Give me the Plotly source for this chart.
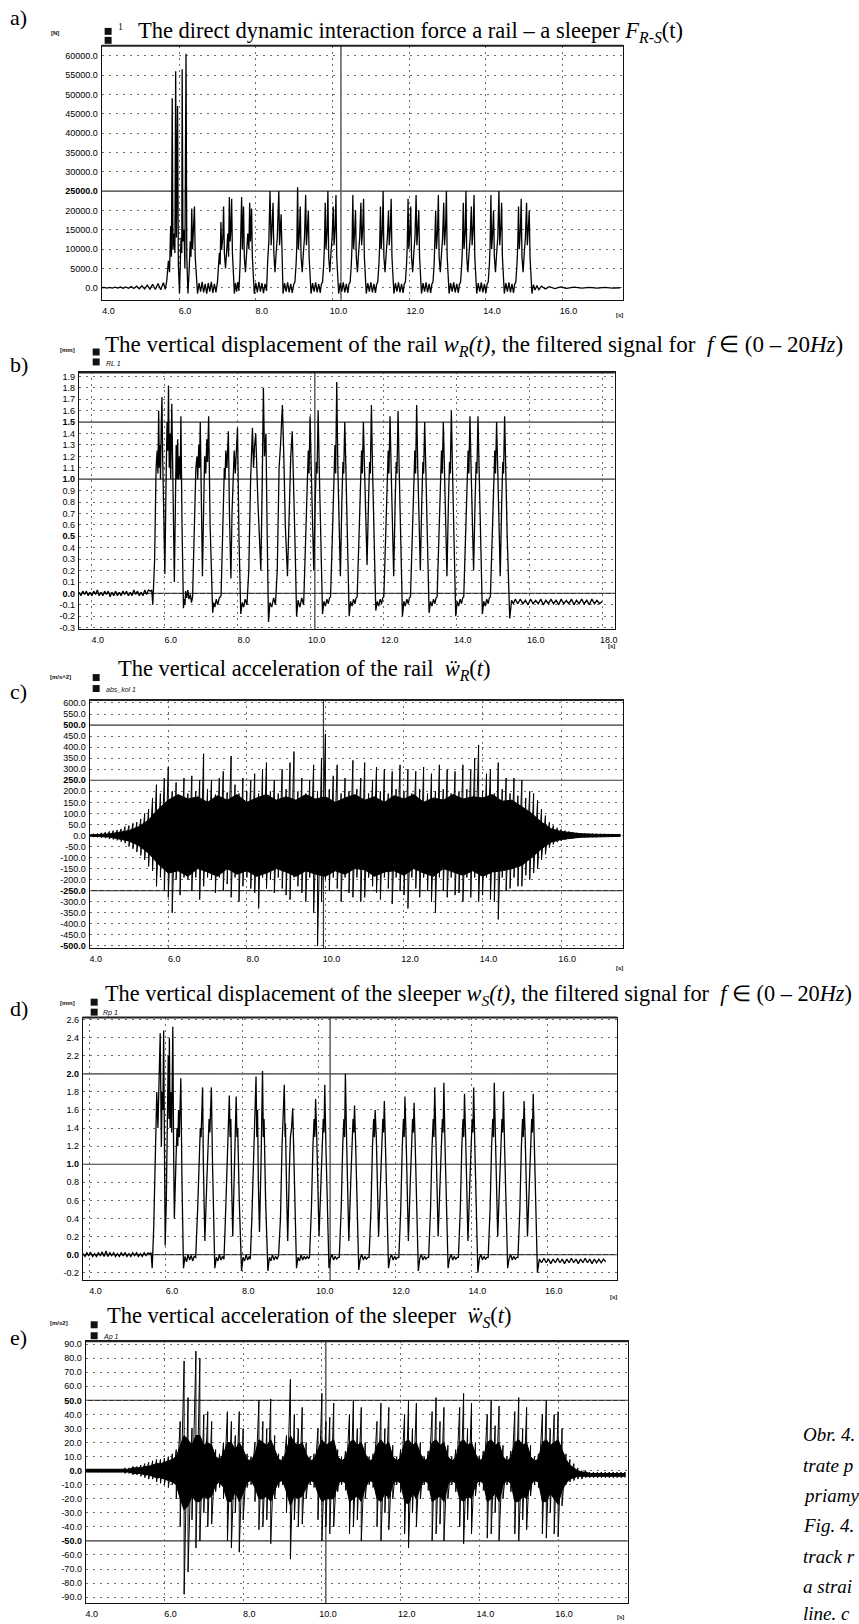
import plotly.graph_objects as go

W, H = 859, 1624

# ---------------- data ----------------
# a) direct dynamic interaction force rail - sleeper  (t [s], F [N])
force_pts = [
(3.98,0),(4.05,100),(4.12,-80),(4.19,120),(4.26,-100),(4.33,150),(4.40,-100),(4.47,180),(4.54,-120),(4.61,220),(4.68,-150),(4.75,300),(4.82,-200),(4.89,400),(4.96,-250),(5.03,500),(5.10,-300),(5.17,700),(5.24,-350),(5.31,900),(5.38,-450),(5.45,1100),(5.52,-500),(5.59,1300),(5.64,-400),(5.68,2000),
(5.72,7000),(5.75,4000),(5.78,16000),(5.80,8000),(5.82,49000),(5.84,10000),(5.87,14000),(5.89,9000),(5.91,56000),(5.93,13000),(5.96,47000),(5.98,6000),(6.01,-1500),(6.03,5000),(6.05,13000),(6.07,9000),(6.08,56500),(6.10,12000),(6.13,15000),(6.15,5000),(6.18,60500),(6.20,8000),(6.23,-1500),(6.26,4000),(6.29,12000),(6.31,8000),(6.33,20500),(6.35,10000),(6.37,14000),(6.40,21000),(6.42,8000),(6.45,1000),(6.48,-1500),
(6.52,1200),(6.56,-1000),(6.60,1500),(6.64,-1200),(6.68,1000),(6.72,-1500),(6.76,1200),(6.80,-1000),(6.84,1500),(6.88,-1300),(6.92,1000),(6.96,-1200),(7.00,1500),
(7.03,5000),(7.05,9000),(7.07,6000),(7.09,17000),(7.11,10000),(7.14,13000),(7.16,21000),(7.18,9000),(7.21,5000),(7.24,10000),(7.27,14000),(7.29,8000),(7.31,23500),(7.33,12000),(7.35,15000),(7.37,23000),(7.39,9000),(7.42,3000),(7.44,-1500),
(7.47,1200),(7.50,-1000),(7.53,1500),(7.56,-800),
(7.59,6000),(7.61,12000),(7.63,23500),(7.65,10000),(7.68,21000),(7.70,8000),(7.73,4000),(7.76,9000),(7.79,14000),(7.82,10000),(7.84,22000),(7.86,12000),(7.89,20500),(7.91,8000),(7.94,2000),(7.96,-1500),
(8.00,1300),(8.04,-1200),(8.08,1500),(8.12,-1000),(8.16,1200),(8.20,-1400),(8.24,1000),(8.28,-800),
(8.31,7000),(8.34,12000),(8.37,25000),(8.40,11000),(8.42,15000),(8.45,22000),(8.47,9000),(8.50,4000),(8.53,9000),(8.56,13000),(8.60,25000),(8.62,11000),(8.66,19000),(8.68,8000),(8.71,-1500),
(8.75,1200),(8.79,-1000),(8.83,1400),(8.87,-1200),(8.91,1000),(8.95,-1300),(8.99,900),
(9.02,1500),(9.05,6000),(9.07,11000),(9.09,26000),(9.11,10000),(9.14,15000),(9.16,21000),(9.18,8000),(9.21,4000),(9.24,9000),(9.27,13000),(9.30,24000),(9.32,11000),(9.35,16000),(9.37,20000),(9.39,8000),(9.42,2000),(9.44,-1500),(9.48,1200),(9.52,-1000),(9.56,1400),(9.60,-1200),(9.64,1000),(9.68,-1300),(9.71,900),
(9.74,1500),(9.77,6000),(9.79,11000),(9.81,22000),(9.83,10000),(9.86,15000),(9.88,25000),(9.90,8000),(9.93,4000),(9.96,9000),(9.99,13000),(10.02,21000),(10.04,11000),(10.07,16000),(10.09,24000),(10.11,8000),(10.14,2000),(10.16,-1500),(10.20,1200),(10.24,-1000),(10.28,1400),(10.32,-1200),(10.36,1000),(10.40,-1300),(10.43,900),
(10.46,1500),(10.49,6000),(10.51,11000),(10.53,24000),(10.55,10000),(10.58,15000),(10.60,20000),(10.62,8000),(10.65,4000),(10.68,9000),(10.71,13000),(10.74,22000),(10.76,11000),(10.79,16000),(10.81,23000),(10.83,8000),(10.86,2000),(10.88,-1500),(10.92,1200),(10.96,-1000),(11.00,1400),(11.04,-1200),(11.08,1000),(11.12,-1300),(11.15,900),
(11.18,1500),(11.21,6000),(11.23,11000),(11.25,21000),(11.27,10000),(11.30,15000),(11.32,25000),(11.34,8000),(11.37,4000),(11.40,9000),(11.43,13000),(11.46,20000),(11.48,11000),(11.51,16000),(11.53,23000),(11.55,8000),(11.58,2000),(11.60,-1500),(11.64,1200),(11.68,-1000),(11.72,1400),(11.76,-1200),(11.80,1000),(11.84,-1300),(11.87,900),
(11.90,1500),(11.93,6000),(11.95,11000),(11.97,23000),(11.99,10000),(12.02,15000),(12.04,21000),(12.06,8000),(12.09,4000),(12.12,9000),(12.15,13000),(12.18,24000),(12.20,11000),(12.23,16000),(12.25,20000),(12.27,8000),(12.30,2000),(12.32,-1500),(12.36,1200),(12.40,-1000),(12.44,1400),(12.48,-1200),(12.52,1000),(12.56,-1300),(12.59,900),
(12.62,1500),(12.65,6000),(12.67,11000),(12.69,20000),(12.71,10000),(12.74,15000),(12.76,24000),(12.78,8000),(12.81,4000),(12.84,9000),(12.87,13000),(12.90,22000),(12.92,11000),(12.95,16000),(12.97,25000),(12.99,8000),(13.02,2000),(13.04,-1500),(13.08,1200),(13.12,-1000),(13.16,1400),(13.20,-1200),(13.24,1000),(13.28,-1300),(13.31,900),
(13.34,1500),(13.37,6000),(13.39,11000),(13.41,22000),(13.43,10000),(13.46,15000),(13.48,25000),(13.50,8000),(13.53,4000),(13.56,9000),(13.59,13000),(13.62,21000),(13.64,11000),(13.67,16000),(13.69,24000),(13.71,8000),(13.74,2000),(13.76,-1500),(13.80,1200),(13.84,-1000),(13.88,1400),(13.92,-1200),(13.96,1000),(14.00,-1300),(14.03,900),
(14.06,1500),(14.09,6000),(14.11,11000),(14.13,24000),(14.15,10000),(14.18,15000),(14.20,20000),(14.22,8000),(14.25,4000),(14.28,9000),(14.31,13000),(14.34,25000),(14.36,11000),(14.39,16000),(14.41,22000),(14.43,8000),(14.46,2000),(14.48,-1500),(14.52,1200),(14.56,-1000),(14.60,1400),(14.64,-1200),(14.68,1000),(14.72,-1300),(14.75,900),
(14.78,1500),(14.81,6000),(14.83,11000),(14.85,21000),(14.87,10000),(14.90,15000),(14.92,23000),(14.94,8000),(14.97,4000),(15.00,9000),(15.03,13000),(15.06,22000),(15.08,11000),(15.11,16000),(15.13,20000),(15.15,8000),(15.18,2000),(15.20,-1500),
(15.24,800),(15.28,-600),(15.33,600),(15.38,-500),(15.45,400),(15.55,-300),(15.65,300),(15.80,-200),(15.95,200),(16.10,-150),(16.30,150),(16.50,-100),(16.70,100),(16.90,-100),(17.10,80),(17.30,-80),(17.50,0),
]

# b) vertical displacement of the rail  (t [s], w [mm])
rail_disp_pts = [
(3.65,0.01),(3.70,-0.02),(3.75,0.02),(3.80,-0.01),(3.85,0.02),(3.90,-0.02),(3.95,0.01),(4.00,-0.02),(4.05,0.02),(4.10,-0.01),(4.15,0.03),(4.20,-0.02),(4.25,0.01),(4.30,-0.02),(4.35,0.02),(4.40,-0.01),(4.45,0.02),(4.50,-0.03),(4.55,0.01),(4.60,-0.02),(4.65,0.02),(4.70,-0.02),(4.75,0.01),(4.80,-0.02),(4.85,0.02),(4.90,-0.01),(4.95,0.02),(5.00,-0.02),(5.05,0.01),(5.10,-0.02),(5.15,0.03),(5.20,-0.01),(5.25,0.02),(5.30,-0.02),(5.35,0.01),(5.40,-0.02),(5.45,0.03),(5.50,-0.01),(5.55,0.03),(5.60,0.02),
(5.64,0.03),(5.67,-0.10),(5.72,0.3),(5.76,1.1),(5.79,1.25),(5.81,1.05),(5.83,1.60),(5.85,1.1),(5.87,1.3),(5.88,1.0),(5.90,1.45),(5.92,1.72),(5.94,1.2),(5.97,0.6),(6.00,0.17),(6.03,0.9),(6.06,1.5),(6.08,1.25),(6.10,1.82),(6.12,1.1),(6.14,1.4),(6.16,1.0),(6.19,1.66),(6.22,1.0),(6.24,0.4),(6.26,0.10),(6.29,0.8),(6.31,1.3),(6.33,1.0),(6.35,1.35),(6.37,1.0),(6.40,1.2),(6.42,1.0),(6.44,1.55),(6.47,0.6),(6.51,-0.13),(6.53,-0.05),(6.55,-0.10),(6.57,0.02),(6.60,-0.04),(6.63,0.03),(6.66,-0.05),(6.70,-0.01),(6.73,-0.08),(6.76,-0.03),
(6.80,0.4),(6.85,1.1),(6.88,1.2),(6.90,1.0),(6.93,1.3),(6.95,1.1),(6.97,1.5),(7.00,0.6),(7.03,0.15),(7.06,0.7),(7.09,1.2),(7.12,1.05),(7.15,1.35),(7.17,1.15),(7.20,1.55),(7.24,0.6),(7.28,0.0),(7.31,-0.17),(7.34,-0.08),(7.37,-0.12),(7.41,-0.05),(7.45,-0.10),(7.49,-0.04),(7.54,-0.02),
(7.59,0.6),(7.63,1.1),(7.65,1.0),(7.67,1.25),(7.70,1.1),(7.74,1.42),(7.77,0.7),(7.81,0.13),(7.84,0.7),(7.87,1.1),(7.90,1.25),(7.93,1.05),(7.96,1.3),(7.99,1.45),(8.03,0.5),(8.08,-0.18),
(8.12,-0.08),(8.16,-0.12),(8.20,-0.05),(8.25,-0.10),(8.30,0.2),(8.35,1.0),(8.40,1.45),(8.43,1.1),(8.46,1.3),(8.49,1.4),(8.55,0.8),(8.63,0.2),(8.67,1.0),(8.70,1.8),(8.73,1.2),(8.77,1.4),(8.80,0.6),(8.84,-0.25),(8.88,-0.08),(8.93,-0.12),(8.98,-0.04),(9.03,-0.10),
(9.08,0.2),(9.13,1.1),(9.17,1.3),(9.22,1.65),(9.26,1.2),(9.30,0.6),(9.36,0.15),(9.41,0.9),(9.45,1.2),(9.49,1.42),(9.53,1.0),(9.57,0.4),(9.61,-0.2),(9.65,-0.06),(9.70,-0.12),(9.75,-0.04),(9.80,-0.10),
(9.81,-0.03),(9.86,0.5),(9.90,1.1),(9.93,1.25),(9.95,1.05),(9.98,1.55),(10.01,1.1),(10.04,0.6),(10.08,0.2),(10.12,0.8),(10.15,1.15),(10.17,1.05),(10.20,1.6),(10.23,1.1),(10.27,0.5),(10.32,-0.18),(10.36,-0.07),(10.40,-0.11),(10.44,-0.05),(10.48,-0.09),(10.51,-0.04),
(10.54,-0.03),(10.59,0.5),(10.63,1.1),(10.66,1.3),(10.68,1.05),(10.71,1.85),(10.74,1.1),(10.77,0.6),(10.81,0.15),(10.85,0.8),(10.88,1.15),(10.90,1.05),(10.93,1.5),(10.96,1.1),(11.00,0.5),(11.05,-0.2),(11.09,-0.07),(11.13,-0.11),(11.17,-0.05),(11.21,-0.09),(11.24,-0.04),
(11.27,-0.03),(11.32,0.5),(11.36,1.1),(11.39,1.25),(11.41,1.05),(11.44,1.5),(11.47,1.1),(11.50,0.6),(11.54,0.25),(11.58,0.8),(11.61,1.15),(11.63,1.05),(11.66,1.65),(11.69,1.1),(11.73,0.5),(11.78,-0.15),(11.82,-0.07),(11.86,-0.11),(11.90,-0.05),(11.94,-0.09),(11.97,-0.04),
(12.00,-0.03),(12.05,0.5),(12.09,1.1),(12.12,1.25),(12.14,1.05),(12.17,1.55),(12.20,1.1),(12.23,0.6),(12.27,0.15),(12.31,0.8),(12.34,1.15),(12.36,1.05),(12.39,1.6),(12.42,1.1),(12.46,0.5),(12.51,-0.2),(12.55,-0.07),(12.59,-0.11),(12.63,-0.05),(12.67,-0.09),(12.70,-0.04),
(12.73,-0.03),(12.78,0.5),(12.82,1.1),(12.85,1.25),(12.87,1.05),(12.90,1.65),(12.93,1.1),(12.96,0.6),(13.00,0.2),(13.04,0.8),(13.07,1.15),(13.09,1.05),(13.12,1.5),(13.15,1.1),(13.19,0.5),(13.24,-0.17),(13.28,-0.07),(13.32,-0.11),(13.36,-0.05),(13.40,-0.09),(13.43,-0.04),
(13.46,-0.03),(13.51,0.5),(13.55,1.1),(13.58,1.25),(13.60,1.05),(13.63,1.5),(13.66,1.1),(13.69,0.6),(13.73,0.15),(13.77,0.8),(13.80,1.15),(13.82,1.05),(13.85,1.6),(13.88,1.1),(13.92,0.5),(13.97,-0.2),(14.01,-0.07),(14.05,-0.11),(14.09,-0.05),(14.13,-0.09),(14.16,-0.04),
(14.19,-0.03),(14.24,0.5),(14.28,1.1),(14.31,1.25),(14.33,1.05),(14.36,1.55),(14.39,1.1),(14.42,0.6),(14.46,0.2),(14.50,0.8),(14.53,1.15),(14.55,1.05),(14.58,1.55),(14.61,1.1),(14.65,0.5),(14.70,-0.18),(14.74,-0.07),(14.78,-0.11),(14.82,-0.05),(14.86,-0.09),(14.89,-0.04),
(14.92,-0.03),(14.97,0.5),(15.01,1.1),(15.04,1.25),(15.06,1.05),(15.09,1.5),(15.12,1.1),(15.15,0.6),(15.19,0.15),(15.23,0.8),(15.26,1.15),(15.28,1.05),(15.31,1.55),(15.34,1.1),(15.38,0.5),(15.45,-0.22),
(15.50,-0.06),(15.55,-0.09),(15.60,-0.05),(15.67,-0.09),(15.74,-0.05),(15.81,-0.09),(15.88,-0.06),(15.95,-0.10),(16.02,-0.05),(16.09,-0.09),(16.16,-0.06),(16.23,-0.09),(16.30,-0.05),(16.37,-0.10),(16.44,-0.06),(16.51,-0.09),(16.58,-0.05),(16.65,-0.09),(16.72,-0.06),(16.79,-0.10),(16.86,-0.05),(16.93,-0.09),(17.00,-0.06),(17.07,-0.09),(17.14,-0.05),(17.21,-0.10),(17.28,-0.06),(17.35,-0.09),(17.42,-0.05),(17.49,-0.09),(17.56,-0.06),(17.63,-0.10),(17.70,-0.05),(17.77,-0.09),(17.84,-0.06),(17.91,-0.09),(17.98,-0.07),
]

# c) vertical acceleration of the rail [m/s^2]: spike max / min every 0.1 s
rail_acc_t = [4.0,4.1,4.2,4.3,4.4,4.5,4.6,4.7,4.8,4.9,5.0,5.1,5.2,5.3,5.4,5.5,5.6,5.7,5.8,5.9,6.0,6.1,6.2,6.3,6.4,6.5,6.6,6.7,6.8,6.9,7.0,7.1,7.2,7.3,7.4,7.5,7.6,7.7,7.8,7.9,8.0,8.1,8.2,8.3,8.4,8.5,8.6,8.7,8.8,8.9,9.0,9.1,9.2,9.3,9.4,9.5,9.6,9.7,9.8,9.9,10.0,10.1,10.2,10.3,10.4,10.5,10.6,10.7,10.8,10.9,11.0,11.1,11.2,11.3,11.4,11.5,11.6,11.7,11.8,11.9,12.0,12.1,12.2,12.3,12.4,12.5,12.6,12.7,12.8,12.9,13.0,13.1,13.2,13.3,13.4,13.5,13.6,13.7,13.8,13.9,14.0,14.1,14.2,14.3,14.4,14.5,14.6,14.7,14.8,14.9,15.0,15.1,15.2,15.3,15.4,15.5,15.6,15.7,15.8,15.9,16.0,16.1,16.2,16.3,16.4,16.5,16.6,16.7,16.8,16.9,17.0,17.1,17.2,17.3,17.4,17.5]
rail_acc_hi = [6,8,9,12,15,18,22,25,30,40,45,55,60,75,100,120,170,
230,190,260,310,200,240,180,260,190,270,200,250,370,210,250,185,260,290,195,360,230,190,260,
200,250,280,190,300,330,200,250,190,300,210,330,380,200,260,190,250,320,200,350,
460,210,270,320,190,260,200,340,210,260,330,190,250,310,200,300,190,290,210,320,
200,300,190,290,210,310,190,280,200,320,210,300,190,290,200,320,210,300,350,410,
200,280,300,190,330,210,260,190,260,180,250,170,200,
190,160,120,90,60,45,35,28,22,18,15,12,10,9,8,8,7,7,7,6,6,6,6]
rail_acc_lo = [-5,-7,-8,-10,-12,-16,-18,-22,-28,-35,-50,-60,-75,-90,-110,-140,-160,
-230,-190,-250,-280,-350,-200,-270,-190,-200,-250,-190,-290,-230,-190,-200,-260,-190,-250,-220,-280,-190,-300,-230,
-190,-240,-260,-330,-190,-240,-200,-260,-190,-240,-270,-290,-190,-230,-260,-300,-190,-350,-500,-300,
-200,-250,-190,-240,-300,-190,-260,-280,-190,-300,-280,-190,-230,-260,-290,-190,-240,-310,-190,-250,
-270,-330,-190,-240,-280,-190,-250,-300,-350,-190,-250,-280,-190,-270,-260,-300,-190,-280,-190,-300,
-270,-190,-290,-300,-380,-190,-250,-240,-190,-230,-230,-180,-200,
-170,-150,-110,-85,-55,-40,-30,-25,-20,-16,-13,-10,-9,-8,-7,-7,-7,-6,-6,-6,-6,-5,-5]
# c) dense black core of the record (upper / lower edge)
rail_core_t = [4.0,4.5,5.0,5.25,5.5,5.75,6.0,6.25,6.5,6.75,7.0,7.25,7.5,7.75,8.0,8.25,8.5,8.75,9.0,9.25,9.5,9.75,10.0,10.25,10.5,10.75,11.0,11.25,11.5,11.75,12.0,12.25,12.5,12.75,13.0,13.25,13.5,13.75,14.0,14.25,14.5,14.75,15.0,15.25,15.5,15.75,16.0,16.5,17.0,17.5]
rail_core_hi = [3,7,22,40,70,120,160,185,165,175,150,180,160,185,150,170,185,160,175,160,185,165,175,150,170,185,160,175,150,180,165,185,150,170,160,185,165,175,170,185,155,160,130,100,60,30,18,8,5,4]
rail_core_lo = [-3,-7,-25,-45,-80,-130,-170,-160,-185,-150,-165,-185,-150,-175,-160,-185,-170,-150,-165,-185,-160,-175,-185,-160,-175,-150,-155,-185,-165,-160,-180,-150,-170,-185,-150,-165,-180,-160,-185,-165,-160,-150,-135,-100,-60,-30,-18,-8,-5,-4]

# d) vertical displacement of the sleeper  (t [s], w [mm])
sleeper_disp_pts = [
(3.83,0.01),(3.88,-0.02),(3.93,0.02),(3.98,-0.01),(4.03,0.02),(4.08,-0.02),(4.13,0.01),(4.18,-0.02),(4.23,0.02),(4.28,-0.01),(4.33,0.03),(4.38,-0.02),(4.43,0.04),(4.48,-0.02),(4.53,0.02),(4.58,-0.01),(4.63,0.02),(4.68,-0.02),(4.73,0.01),(4.78,-0.02),(4.83,0.02),(4.88,-0.01),(4.93,0.02),(4.98,-0.02),(5.03,0.01),(5.08,-0.02),(5.13,0.02),(5.18,-0.01),(5.23,0.02),(5.28,-0.02),(5.33,0.01),(5.38,-0.02),(5.43,0.02),(5.48,-0.01),(5.53,0.02),(5.58,0.01),
(5.61,0.02),(5.64,-0.15),(5.68,0.3),(5.72,1.2),(5.76,1.8),(5.79,1.4),(5.82,2.0),(5.85,2.45),(5.87,1.6),(5.88,1.2),(5.90,1.8),(5.92,1.6),(5.94,2.48),(5.96,1.0),(5.98,0.1),(6.01,0.6),(6.04,1.7),(6.06,2.2),(6.08,1.5),(6.09,2.4),(6.11,1.4),(6.13,1.8),(6.15,1.35),(6.18,2.52),(6.20,1.2),(6.22,0.4),(6.26,1.0),(6.29,1.4),(6.31,1.2),(6.33,1.6),(6.35,1.3),(6.37,1.65),(6.39,1.95),(6.42,0.8),(6.46,-0.15),(6.50,-0.02),(6.54,-0.08),(6.58,0.0),(6.62,-0.06),(6.66,-0.01),(6.70,-0.07),(6.74,-0.02),
(6.78,-0.03),(6.83,0.5),(6.87,1.1),(6.90,1.4),(6.92,1.3),(6.94,1.6),(6.96,1.85),(6.98,1.0),(7.02,0.15),(7.07,0.8),(7.11,1.3),(7.13,1.5),(7.15,1.35),(7.17,1.6),(7.19,1.85),(7.22,1.0),(7.28,-0.15),(7.32,-0.03),(7.36,-0.07),(7.40,0.0),(7.44,-0.06),(7.48,-0.02),(7.52,-0.05),
(7.55,0.3),(7.60,1.1),(7.63,1.4),(7.66,1.76),(7.68,1.3),(7.70,1.5),(7.72,0.8),(7.75,0.2),(7.79,0.9),(7.82,1.4),(7.84,1.75),(7.86,1.3),(7.88,1.4),(7.92,0.6),(7.98,-0.18),(8.02,-0.03),(8.06,-0.07),(8.10,0.0),(8.14,-0.06),(8.18,-0.02),(8.21,-0.05),
(8.25,0.4),(8.30,1.2),(8.33,1.5),(8.36,1.97),(8.38,1.3),(8.40,1.6),(8.42,0.8),(8.45,0.25),(8.49,1.0),(8.51,1.4),(8.53,2.03),(8.55,1.3),(8.57,1.5),(8.61,0.6),(8.67,-0.18),(8.71,-0.03),(8.75,-0.07),(8.79,0.0),(8.83,-0.06),(8.87,-0.02),(8.91,-0.05),(8.95,-0.01),
(9.00,0.4),(9.04,1.2),(9.07,1.5),(9.10,1.88),(9.12,1.3),(9.13,1.45),(9.16,0.7),(9.19,0.15),(9.23,0.9),(9.26,1.3),(9.29,1.4),(9.32,1.62),(9.35,1.1),(9.38,0.5),(9.42,-0.15),(9.46,-0.03),(9.50,-0.07),(9.54,0.0),(9.58,-0.06),(9.62,-0.02),(9.66,-0.05),(9.70,-0.02),(9.73,-0.04),
(9.76,-0.03),(9.81,0.5),(9.85,1.2),(9.88,1.5),(9.90,1.3),(9.92,1.72),(9.95,1.3),(9.98,0.6),(10.01,0.2),(10.06,0.8),(10.10,1.3),(10.12,1.5),(10.14,1.35),(10.16,1.88),(10.19,1.2),(10.23,0.4),(10.27,-0.15),(10.31,-0.04),(10.35,0.0),(10.39,-0.06),(10.43,-0.02),(10.47,-0.05),(10.51,-0.03),
(10.54,-0.03),(10.59,0.5),(10.63,1.2),(10.66,1.5),(10.68,1.3),(10.70,2.0),(10.73,1.3),(10.76,0.6),(10.79,0.15),(10.84,0.8),(10.88,1.3),(10.90,1.5),(10.92,1.35),(10.94,1.65),(10.97,1.2),(11.01,0.4),(11.05,-0.17),(11.09,-0.04),(11.13,0.0),(11.17,-0.06),(11.21,-0.02),(11.25,-0.05),(11.29,-0.03),
(11.32,-0.03),(11.37,0.5),(11.41,1.2),(11.44,1.5),(11.46,1.3),(11.48,1.6),(11.51,1.3),(11.54,0.6),(11.57,0.2),(11.62,0.8),(11.66,1.3),(11.68,1.5),(11.70,1.35),(11.72,1.7),(11.75,1.2),(11.79,0.4),(11.83,-0.15),(11.87,-0.04),(11.91,0.0),(11.95,-0.06),(11.99,-0.02),(12.03,-0.05),(12.07,-0.03),
(12.10,-0.03),(12.15,0.5),(12.19,1.2),(12.22,1.5),(12.24,1.3),(12.26,1.75),(12.29,1.3),(12.32,0.6),(12.35,0.15),(12.40,0.8),(12.44,1.3),(12.46,1.5),(12.48,1.35),(12.50,1.68),(12.53,1.2),(12.57,0.4),(12.61,-0.18),(12.65,-0.04),(12.69,0.0),(12.73,-0.06),(12.77,-0.02),(12.81,-0.05),(12.85,-0.03),
(12.88,-0.03),(12.93,0.5),(12.97,1.2),(13.00,1.5),(13.02,1.3),(13.04,1.85),(13.07,1.3),(13.10,0.6),(13.13,0.2),(13.18,0.8),(13.22,1.3),(13.24,1.5),(13.26,1.35),(13.28,1.9),(13.31,1.2),(13.35,0.4),(13.39,-0.15),(13.43,-0.04),(13.47,0.0),(13.51,-0.06),(13.55,-0.02),(13.59,-0.05),(13.63,-0.03),
(13.66,-0.03),(13.71,0.5),(13.75,1.2),(13.78,1.5),(13.80,1.3),(13.82,1.78),(13.85,1.3),(13.88,0.6),(13.91,0.15),(13.96,0.8),(14.00,1.3),(14.02,1.5),(14.04,1.35),(14.06,1.85),(14.09,1.2),(14.13,0.4),(14.17,-0.2),(14.21,-0.04),(14.25,0.0),(14.29,-0.06),(14.33,-0.02),(14.37,-0.05),(14.41,-0.03),
(14.44,-0.03),(14.49,0.5),(14.53,1.2),(14.56,1.5),(14.58,1.3),(14.60,1.9),(14.63,1.3),(14.66,0.6),(14.69,0.2),(14.74,0.8),(14.78,1.3),(14.80,1.5),(14.82,1.35),(14.84,1.8),(14.87,1.2),(14.91,0.4),(14.95,-0.15),(14.99,-0.04),(15.03,0.0),(15.07,-0.06),(15.11,-0.02),(15.15,-0.05),(15.19,-0.03),
(15.22,-0.03),(15.27,0.5),(15.31,1.2),(15.34,1.5),(15.36,1.3),(15.38,1.7),(15.41,1.3),(15.44,0.6),(15.47,0.2),(15.52,0.8),(15.56,1.3),(15.58,1.5),(15.60,1.35),(15.62,1.78),(15.65,1.2),(15.69,0.4),(15.73,-0.2),
(15.78,-0.05),(15.84,-0.09),(15.90,-0.04),(15.96,-0.09),(16.02,-0.05),(16.08,-0.10),(16.14,-0.05),(16.20,-0.09),(16.26,-0.04),(16.32,-0.09),(16.38,-0.05),(16.44,-0.10),(16.50,-0.05),(16.56,-0.09),(16.62,-0.04),(16.68,-0.09),(16.74,-0.05),(16.80,-0.10),(16.86,-0.05),(16.92,-0.09),(16.98,-0.04),(17.04,-0.09),(17.10,-0.05),(17.16,-0.10),(17.22,-0.05),(17.28,-0.09),(17.34,-0.05),(17.40,-0.09),(17.46,-0.05),(17.52,-0.08),
]

# e) vertical acceleration of the sleeper [m/s^2]: spike max / min and dense core every 0.1 s
sleeper_acc_t = [4.0,4.1,4.2,4.3,4.4,4.5,4.6,4.7,4.8,4.9,5.0,5.1,5.2,5.3,5.4,5.5,5.6,5.7,5.8,5.9,6.0,6.1,6.2,6.3,6.4,6.5,6.6,6.7,6.8,6.9,7.0,7.1,7.2,7.3,7.4,7.5,7.6,7.7,7.8,7.9,8.0,8.1,8.2,8.3,8.4,8.5,8.6,8.7,8.8,8.9,9.0,9.1,9.2,9.3,9.4,9.5,9.6,9.7,9.8,9.9,10.0,10.1,10.2,10.3,10.4,10.5,10.6,10.7,10.8,10.9,11.0,11.1,11.2,11.3,11.4,11.5,11.6,11.7,11.8,11.9,12.0,12.1,12.2,12.3,12.4,12.5,12.6,12.7,12.8,12.9,13.0,13.1,13.2,13.3,13.4,13.5,13.6,13.7,13.8,13.9,14.0,14.1,14.2,14.3,14.4,14.5,14.6,14.7,14.8,14.9,15.0,15.1,15.2,15.3,15.4,15.5,15.6,15.7,15.8,15.9,16.0,16.1,16.2,16.3,16.4,16.5,16.6,16.7,16.8,16.9,17.0,17.1,17.2,17.3,17.4,17.5,17.6,17.7]
sleeper_acc_hi = [1,1,1,1,1,1,1,1,1,1,2,2,3,3,4,5,6,7,8,8,
9,10,12,15,35,78,52,30,85,80,40,42,35,15,12,20,42,35,25,42,
30,12,10,20,50,35,30,51,25,12,10,25,65,40,30,45,20,10,12,30,
55,35,38,48,15,10,14,40,50,30,45,20,10,12,35,48,30,45,18,10,
15,40,50,30,48,20,10,14,42,52,35,45,18,10,15,45,55,30,48,20,
10,14,40,50,32,46,18,10,14,42,52,30,45,18,10,12,40,50,30,40,
42,30,12,8,5,2,0,0,-1,-1,-1,-1,-1,-1,-1,-1,-1,-1]
sleeper_acc_lo = [-1,-1,-1,-1,-1,-1,-1,-1,-1,-1,-2,-2,-3,-3,-4,-5,-6,-6,-8,-9,
-10,-12,-10,-20,-40,-88,-72,-35,-55,-50,-30,-40,-38,-15,-12,-20,-50,-55,-30,-58,
-35,-12,-10,-22,-42,-40,-35,-52,-20,-12,-10,-30,-63,-35,-40,-38,-20,-10,-12,-35,
-50,-40,-45,-40,-15,-10,-14,-45,-40,-35,-50,-20,-10,-12,-40,-50,-30,-42,-20,-10,
-15,-45,-55,-30,-40,-20,-10,-14,-50,-45,-38,-50,-20,-10,-15,-40,-52,-35,-45,-18,
-10,-14,-48,-45,-30,-50,-20,-10,-15,-45,-50,-35,-42,-18,-10,-12,-45,-48,-30,-45,
-47,-25,-10,-8,-7,-6,-6,-5,-5,-5,-5,-5,-5,-5,-5,-5,-5,-5]
sleeper_core_hi = [1,1,1,1,1,1,1,1,1,1,1,1,2,2,2,3,3,4,5,5,
6,7,8,10,18,25,22,18,25,25,18,20,18,10,8,12,20,20,15,20,
15,8,7,12,22,20,18,22,15,8,7,14,25,20,18,20,12,7,8,15,
22,18,20,22,10,7,9,20,22,18,20,12,7,8,18,22,18,20,10,7,
9,20,22,18,20,12,7,9,20,22,18,20,10,7,9,20,22,18,20,12,
7,9,20,22,18,20,10,7,9,20,22,18,20,10,7,8,20,22,18,20,
22,15,8,4,2,0,-1,-1,-2,-2,-2,-2,-2,-2,-2,-2,-2,-2]
sleeper_core_lo = [-1,-1,-1,-1,-1,-1,-1,-1,-1,-1,-1,-1,-2,-2,-2,-3,-3,-4,-5,-5,
-6,-7,-8,-10,-20,-28,-25,-18,-22,-22,-18,-20,-18,-10,-8,-12,-22,-22,-15,-22,
-16,-8,-7,-12,-20,-20,-18,-22,-14,-8,-7,-15,-25,-18,-20,-18,-12,-7,-8,-16,
-22,-20,-20,-20,-10,-7,-9,-22,-20,-18,-22,-12,-7,-8,-20,-22,-16,-20,-10,-7,
-9,-22,-24,-16,-20,-12,-7,-9,-22,-20,-18,-22,-10,-7,-9,-20,-22,-18,-20,-10,
-7,-9,-22,-20,-16,-22,-10,-7,-9,-22,-22,-18,-20,-10,-7,-8,-22,-22,-16,-20,
-24,-14,-9,-6,-5,-4,-4,-4,-4,-4,-4,-4,-4,-4,-4,-4,-4,-4]

# axis ticks
x_ticks = [4, 6, 8, 10, 12, 14, 16]
x_tick_text = ["4.0", "6.0", "8.0", "10.0", "12.0", "14.0", "16.0"]
b_x_ticks = [4, 6, 8, 10, 12, 14, 16, 18]
b_x_tick_text = ["4.0", "6.0", "8.0", "10.0", "12.0", "14.0", "16.0", "18.0"]
a_y_ticks = [0, 5000, 10000, 15000, 20000, 25000, 30000, 35000, 40000, 45000, 50000, 55000, 60000]
a_y_text = ["0.0", "5000.0", "10000.0", "15000.0", "20000.0", "<b>25000.0</b>", "30000.0", "35000.0", "40000.0", "45000.0", "50000.0", "55000.0", "60000.0"]
b_y_ticks = [-0.3, -0.2, -0.1, 0.0, 0.1, 0.2, 0.3, 0.4, 0.5, 0.6, 0.7, 0.8, 0.9, 1.0, 1.1, 1.2, 1.3, 1.4, 1.5, 1.6, 1.7, 1.8, 1.9]
b_y_text = ["-0.3", "-0.2", "-0.1", "<b>0.0</b>", "0.1", "0.2", "0.3", "0.4", "<b>0.5</b>", "0.6", "0.7", "0.8", "0.9", "<b>1.0</b>", "1.1", "1.2", "1.3", "1.4", "<b>1.5</b>", "1.6", "1.7", "1.8", "1.9"]
c_y_ticks = [-500, -450, -400, -350, -300, -250, -200, -150, -100, -50, 0, 50, 100, 150, 200, 250, 300, 350, 400, 450, 500, 550, 600]
c_y_text = ["<b>-500.0</b>", "-450.0", "-400.0", "-350.0", "-300.0", "<b>-250.0</b>", "-200.0", "-150.0", "-100.0", "-50.0", "0.0", "50.0", "100.0", "150.0", "200.0", "<b>250.0</b>", "300.0", "350.0", "400.0", "450.0", "<b>500.0</b>", "550.0", "600.0"]
d_y_ticks = [-0.2, 0.0, 0.2, 0.4, 0.6, 0.8, 1.0, 1.2, 1.4, 1.6, 1.8, 2.0, 2.2, 2.4, 2.6]
d_y_text = ["-0.2", "<b>0.0</b>", "0.2", "0.4", "0.6", "0.8", "<b>1.0</b>", "1.2", "1.4", "1.6", "1.8", "<b>2.0</b>", "2.2", "2.4", "2.6"]
e_y_ticks = [-90, -80, -70, -60, -50, -40, -30, -20, -10, 0, 10, 20, 30, 40, 50, 60, 70, 80, 90]
e_y_text = ["-90.0", "-80.0", "-70.0", "-60.0", "<b>-50.0</b>", "-40.0", "-30.0", "-20.0", "-10.0", "<b>0.0</b>", "10.0", "20.0", "30.0", "40.0", "<b>50.0</b>", "60.0", "70.0", "80.0", "90.0"]

# ---------------- layout helpers ----------------
def px(x):
    return x / W

def py(y):
    return 1 - y / H

panels = [
    dict(box=(102, 43, 625, 298), xr=[3.98, 17.57], yr=[-3090, 62575], xt=x_ticks, xtt=x_tick_text,
         yt=a_y_ticks, ytt=a_y_text, solid_y=[25000], vline=10.22),
    dict(box=(79, 371, 617, 629), xr=[3.64, 18.33], yr=[-0.314, 1.935], xt=b_x_ticks, xtt=b_x_tick_text,
         yt=b_y_ticks, ytt=b_y_text, solid_y=[0.0, 1.0, 1.5], vline=10.11),
    dict(box=(90, 700, 625, 949), xr=[4.0, 17.57], yr=[-509, 613.5], xt=x_ticks, xtt=x_tick_text,
         yt=c_y_ticks, ytt=c_y_text, solid_y=[500, 250, -250], vline=9.95),
    dict(box=(83, 1019, 619, 1283), xr=[3.82, 17.81], yr=[-0.286, 2.622], xt=x_ticks, xtt=x_tick_text,
         yt=d_y_ticks, ytt=d_y_text, solid_y=[0.0, 1.0, 2.0], vline=10.3),
    dict(box=(86, 1344, 630, 1607), xr=[4.0, 17.77], yr=[-94.2, 92.1], xt=x_ticks, xtt=x_tick_text,
         yt=e_y_ticks, ytt=e_y_text, solid_y=[50, -50], vline=10.1),
]

fig = go.Figure()
layout = dict(width=W, height=H, margin=dict(l=0, r=0, t=0, b=0), showlegend=False,
              plot_bgcolor="white", paper_bgcolor="white")
shapes = []
tick_font = dict(family="Liberation Sans", size=9, color="#000")

for i, p in enumerate(panels, 1):
    sfx = "" if i == 1 else str(i)
    x0, y0, x1, y1 = p["box"]
    layout["xaxis" + sfx] = dict(
        domain=[px(x0), px(x1)], range=p["xr"], anchor="y" + sfx,
        tickvals=p["xt"], ticktext=p["xtt"], tickfont=tick_font, ticks="",
        ticklabelshift=6, ticklabelstandoff=2,
        showgrid=True, gridcolor="#6f6f6f", griddash="2px,4px", gridwidth=1,
        showline=True, linecolor="#111", linewidth=1, mirror=True, zeroline=False, fixedrange=True)
    layout["yaxis" + sfx] = dict(
        domain=[py(y1), py(y0)], range=p["yr"], anchor="x" + sfx,
        tickvals=p["yt"], ticktext=p["ytt"], tickfont=tick_font, ticks="",
        ticklabelstandoff=1,
        showgrid=True, gridcolor="#6f6f6f", griddash="2px,5px", gridwidth=1,
        showline=True, linecolor="#111", linewidth=1, mirror=True, zeroline=False, fixedrange=True)
    xref = "x" + sfx
    yref = "y" + sfx
    for v in p["solid_y"]:
        shapes.append(dict(type="line", xref=xref + " domain", yref=yref, x0=0, x1=1, y0=v, y1=v,
                           line=dict(color="#333", width=1.2), layer="below"))
    shapes.append(dict(type="line", xref=xref, yref=yref + " domain", x0=p["vline"], x1=p["vline"], y0=0, y1=1,
                       line=dict(color="#333", width=1.2), layer="below"))
    shapes.append(dict(type="line", xref=xref + " domain", yref=yref + " domain", x0=0, x1=1, y0=1, y1=1,
                       line=dict(color="#222", width=2)))

# traces
def axes_of(i):
    sfx = "" if i == 1 else str(i)
    return "x" + sfx, "y" + sfx

def add_vertices(pts, i):
    xa, ya = axes_of(i)
    fig.add_trace(go.Scatter(x=[q[0] for q in pts], y=[q[1] for q in pts], mode="lines",
                             line=dict(color="black", width=1.3), xaxis=xa, yaxis=ya, hoverinfo="skip"))

def add_spikes(ts, hi, lo, i):
    xa, ya = axes_of(i)
    xs, ys = [], []
    for t, h, l in zip(ts, hi, lo):
        xs += [t, t]
        ys += [h, l]
    fig.add_trace(go.Scatter(x=xs, y=ys, mode="lines", line=dict(color="black", width=1),
                             xaxis=xa, yaxis=ya, hoverinfo="skip"))

def add_core(ts, hi, lo, i):
    xa, ya = axes_of(i)
    fig.add_trace(go.Scatter(x=list(ts) + list(ts)[::-1], y=list(hi) + list(lo)[::-1], mode="lines",
                             fill="toself", fillcolor="black", line=dict(color="black", width=1),
                             xaxis=xa, yaxis=ya, hoverinfo="skip"))

add_vertices(force_pts, 1)
add_vertices(rail_disp_pts, 2)
add_core(rail_core_t, rail_core_hi, rail_core_lo, 3)
add_spikes(rail_acc_t, rail_acc_hi, rail_acc_lo, 3)
add_vertices(sleeper_disp_pts, 4)
add_core(sleeper_acc_t, sleeper_core_hi, sleeper_core_lo, 5)
add_spikes(sleeper_acc_t, sleeper_acc_hi, sleeper_acc_lo, 5)

# ---------------- texts ----------------
ann = []
def text(x, y, s, size=8, family="Liberation Sans", anchor="left", color="#111"):
    ann.append(dict(x=px(x), y=py(y), xref="paper", yref="paper", text=s, showarrow=False,
                    xanchor=anchor, yanchor="middle", font=dict(family=family, size=size, color=color)))

serif = "Liberation Serif"
titles = [
    (136, 29, "The direct dynamic interaction force a rail – a sleeper <i>F<sub>R-S</sub></i>(t)", 22.5),
    (103, 344, "The vertical displacement of the rail <i>w<sub>R</sub>(t)</i>, the filtered signal for  <i>f</i> ∈ (0 – 20<i>Hz</i>)", 23),
    (116, 670, "The vertical acceleration of the rail  <i>ẅ<sub>R</sub></i>(<i>t</i>)", 22.5),
    (103, 996, "The vertical displacement of the sleeper <i>w<sub>S</sub>(t)</i>, the filtered signal for  <i>f</i> ∈ (0 – 20<i>Hz</i>)", 22.3),
    (105, 1320, "The vertical acceleration of the sleeper  <i>ẅ<sub>S</sub></i>(<i>t</i>)", 22.5),
]
for x, y, s, sz in titles:
    text(x, y, s, size=sz, family=serif, color="black")

for x, y, s in [(8, 15, "a)"), (8, 363, "b)"), (8, 691, "c)"), (8, 1010, "d)"), (8, 1340, "e)")]:
    text(x, y, s, size=22, family=serif, color="black")

units = [(49, 30, "[N]"), (58, 348, "[mm]"), (48, 677, "[m/s^2]"), (58, 1004, "[mm]"), (48, 1326, "[m/s2]")]
for x, y, s in units:
    text(x, y, "<b>" + s + "</b>", size=6)

legend_labels = [(116, 24, "1", 10, "Liberation Serif"), (104, 362, "<i>RL 1</i>", 7, "Liberation Sans"),
                 (104, 689, "<i>abs_kol 1</i>", 7, "Liberation Sans"), (101, 1014, "<i>Rp 1</i>", 7, "Liberation Sans"),
                 (101, 1340, "<i>Ap 1</i>", 7, "Liberation Sans")]
for x, y, s, sz, fam in legend_labels:
    text(x, y, s, size=sz, family=fam)

squares = [(105, 25), (105, 34), (93, 347), (93, 357), (93, 674), (93, 685), (91, 1000), (91, 1010), (91, 1324), (91, 1335)]
for x, y in squares:
    shapes.append(dict(type="rect", xref="paper", yref="paper", x0=px(x), x1=px(x + 7), y0=py(y + 7), y1=py(y),
                       fillcolor="#111", line=dict(width=0)))

for x, y in [(616, 313), (608, 646), (616, 969), (610, 1300), (617, 1621)]:
    text(x, y, "<b>[s]</b>", size=6)

caption = ["Obr. 4.", "trate p", "priamy", "Fig. 4.", "track r", "a strai", "line. c"]
cap_y = [1438, 1469, 1499, 1529, 1560, 1590, 1617]
for s, y in zip(caption, cap_y):
    text(804, y, "<i>" + s + "</i>", size=19, family=serif, color="black")

layout["annotations"] = ann
layout["shapes"] = shapes
fig.update_layout(**layout)
fig.write_html("out.html", config={"displayModeBar": False},
               post_script="document.body.style.margin='0px';")
